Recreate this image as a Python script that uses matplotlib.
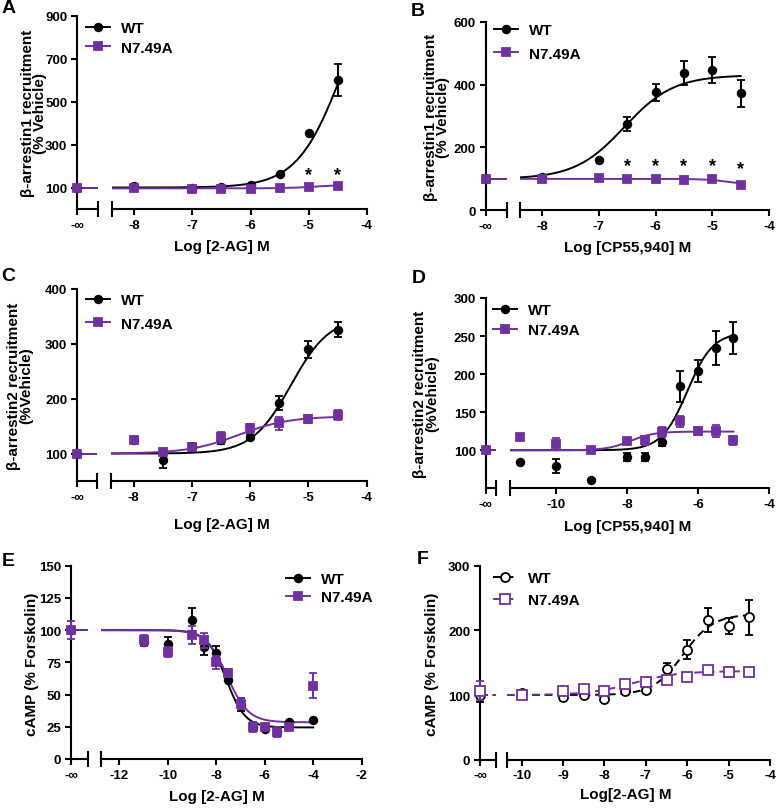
import numpy as np
import matplotlib
matplotlib.use("Agg")
import matplotlib.pyplot as plt
from matplotlib.lines import Line2D

plt.rcParams["font.family"] = ["Liberation Sans", "DejaVu Sans"]
plt.rcParams["font.weight"] = "bold"
plt.rcParams["axes.unicode_minus"] = False

PURPLE = "#7030a0"
W, H = 777, 812

# --- A: beta-arrestin1, 2-AG ---
a_x = [-8, -7, -6.5, -6, -5.5, -5, -4.5]
a_wt = [108, 100, 104, 112, 162, 354, 600]
a_wt_sem = [0, 0, 0, 0, 0, 0, 75]
a_mut = [96, 95, 95, 95, 96, 103, 107]
a_mut_sem = [0, 0, 0, 0, 0, 0, 0]
a_inf = [100, 100]          # WT, N7.49A at -inf
a_inf_sem = [0, 0]
a_wt_fit = [100, 1200, -4.4, 1.1]   # left, right, logEC50, hill
a_mut_fit = [96, 115, -4.8, 1.5]
a_star_x = [-5, -4.5]
a_star_y = [160, 160]

# --- B: beta-arrestin1, CP55,940 ---
b_x = [-8, -7, -6.5, -6, -5.5, -5, -4.5]
b_wt = [105, 160, 274, 375, 437, 447, 373]
b_wt_sem = [0, 0, 23, 28, 38, 42, 43]
b_mut = [100, 104, 100, 100, 97, 100, 82]
b_mut_sem = [0, 0, 0, 0, 0, 0, 0]
b_inf = [100, 100]
b_inf_sem = [0, 0]
b_wt_fit = [100, 430, -6.55, 1.0]
b_mut_fit = [100, 80, -4.7, 2.0]
b_star_x = [-6.5, -6, -5.5, -5, -4.5]
b_star_y = [142, 142, 142, 142, 134]

# --- C: beta-arrestin2, 2-AG ---
c_x = [-8, -7.5, -7, -6.5, -6, -5.5, -5, -4.5]
c_wt = [125, 88, 112, 124, 130, 192, 290, 326]
c_wt_sem = [0, 15, 7, 6, 6, 13, 15, 14]
c_mut = [125, 103, 112, 130, 146, 155, 163, 171]
c_mut_sem = [0, 4, 6, 10, 8, 12, 8, 9]
c_inf = [100, 100]
c_inf_sem = [0, 0]
c_wt_fit = [100, 350, -5.3, 1.3]
c_mut_fit = [100, 168, -6.2, 1.0]

# --- D: beta-arrestin2, CP55,940 ---
d_x = [-11, -10, -9, -8, -7.5, -7, -6.5, -6, -5.5, -5]
d_wt = [85, 79, 61, 91, 91, 111, 184, 204, 234, 248]
d_wt_sem = [0, 9, 0, 5, 5, 6, 20, 14, 22, 21]
d_mut = [118, 108, 100, 112, 113, 124, 138, 125, 125, 113]
d_mut_sem = [0, 8, 0, 2, 6, 7, 7, 5, 8, 6]
d_inf = [100, 100]
d_inf_sem = [0, 0]
d_wt_fit = [100, 255, -6.3, 1.2]
d_mut_fit = [100, 124.5, -7.9, 1.3]

# --- E: cAMP, 2-AG ---
e_x = [-11, -10, -9, -8.5, -8, -7.5, -7, -6.5, -6, -5.5, -5, -4]
e_wt = [91, 89, 108, 87, 82, 61, 42, 25, 23, 22, 29, 30]
e_wt_sem = [3, 6, 9, 6, 6, 0, 5, 3, 0, 3, 0, 0]
e_mut = [92, 83, 96, 92, 75, 67, 43, 25, 25, 21, 25, 57]
e_mut_sem = [4, 4, 7, 6, 5, 3, 4, 4, 2, 4, 2, 10]
e_inf = [100, 100]
e_inf_sem = [0, 7]
e_wt_fit = [100, 24.5, -7.6, 1.1]
e_mut_fit = [100, 28.5, -7.55, 1.0]

# --- F: cAMP (alternate), 2-AG ---
f_x = [-10, -9, -8.5, -8, -7.5, -7, -6.5, -6, -5.5, -5, -4.5]
f_wt = [103, 97, 100, 94, 106, 108, 140, 170, 216, 207, 220]
f_wt_sem = [3, 3, 3, 3, 4, 5, 10, 15, 18, 12, 27]
f_mut = [100, 107, 109, 106, 117, 120, 123, 128, 138, 136, 136]
f_mut_sem = [3, 3, 3, 4, 4, 7, 4, 4, 3, 8, 3]
f_inf = [100, 107]
f_inf_sem = [10, 14]
f_wt_fit = [100, 225, -6.1, 1.2]
f_mut_fit = [100, 137, -7.3, 0.8]


def logistic(x, p):
    left, right, logec50, hill = p
    return left + (right - left) / (1 + 10 ** ((logec50 - x) * hill))


fig = plt.figure(figsize=(W / 100, H / 100), dpi=100)


def add_px_axes(x0, x1, y0, y1, **kw):
    return fig.add_axes([x0 / W, 1 - y1 / H, (x1 - x0) / W, (y1 - y0) / H], **kw)


def panel(letter, letter_xy, box, xlim, xticks, ylim, yticks,
          xlabel, xlabel_xy, ylabel, ylabel_xy,
          x, wt, wt_sem, mut, mut_sem, inf, inf_sem, wt_fit, mut_fit,
          leg, star_x=None, star_y=None, dashed=False, fit_end=None):
    xl0, xl1, xm0, xm1, yt, yb = box
    ax_l = add_px_axes(xl0, xl1, yt, yb)
    ax_m = add_px_axes(xm0, xm1, yt, yb, sharey=ax_l)

    for ax in (ax_l, ax_m):
        ax.patch.set_visible(False)
        for s in ("top", "right"):
            ax.spines[s].set_visible(False)
        for s in ("left", "bottom"):
            ax.spines[s].set_linewidth(1.5)
        ax.tick_params(which="major", length=4.5, width=1.5, labelsize=9.5, pad=2.5)
        ax.tick_params(axis="x", which="minor", direction="inout", length=11, width=1.5)
    ax_m.spines["left"].set_visible(False)
    ax_m.tick_params(axis="y", left=False, labelleft=False)

    ax_l.set_ylim(ylim)
    ax_l.set_yticks(yticks)
    ax_l.set_xlim(0, 1)
    ax_l.set_xticks([0])
    ax_l.set_xticklabels(["-\u221e"])
    ax_l.set_xticks([1], minor=True)
    ax_m.set_xlim(xlim)
    ax_m.set_xticks(xticks)
    ax_m.set_xticklabels([f"{t:g}" for t in xticks])
    ax_m.set_xticks([xlim[0]], minor=True)

    ls = (0, (4, 2.5)) if dashed else "-"
    ms = 6.5 if dashed else 5.5
    series = [("black", "o", wt, wt_sem, wt_fit, inf[0], inf_sem[0]),
              (PURPLE, "s", mut, mut_sem, mut_fit, inf[1], inf_sem[1])]
    handles = []
    for z, (col, mk, y, sem, fit, yinf, sinf) in enumerate(series):
        mfc = "white" if dashed else col
        kw = dict(fmt=mk, color=col, mfc=mfc, mec=col, mew=1.3, ms=ms,
                  capsize=3, elinewidth=1.5, capthick=1.5, clip_on=False, zorder=4 + z)
        ax_m.errorbar(x, y, yerr=sem, **kw)
        ax_l.errorbar([0], [yinf], yerr=[sinf], **kw)
        end = x[-1] if fit_end is None else fit_end
        xx = np.linspace(xlim[0], end, 300)
        ax_m.plot(xx, logistic(xx, fit), color=col, lw=1.4, ls=ls, zorder=3 + z)
        ax_l.axhline(fit[0], color=col, lw=1.4, ls=ls, zorder=3 + z)
        handles.append(Line2D([], [], color=col, marker=mk, mfc=mfc, mec=col, mew=1.3,
                              ms=ms, lw=1.4, ls=ls))

    if star_x is not None:
        for sx, sy in zip(star_x, star_y):
            ax_m.text(sx, sy, "*", ha="center", va="center", fontsize=13)

    lx, ly, lsp = leg
    ax_m.legend(handles, ["WT", "N7.49A"], loc="upper left",
                bbox_to_anchor=(lx / W, 1 - (ly - 8.8) / H), bbox_transform=fig.transFigure,
                frameon=False, borderpad=0, borderaxespad=0, handlelength=1.6,
                handletextpad=0.7, labelspacing=(lsp - 17.6) / 15.3,
                prop={"size": 11, "weight": "bold"})

    fig.text(letter_xy[0] / W, 1 - letter_xy[1] / H, letter, fontsize=14,
             fontweight="bold", ha="left", va="top")
    fig.text(xlabel_xy[0] / W, 1 - xlabel_xy[1] / H, xlabel, fontsize=11,
             ha="center", va="center")
    fig.text(ylabel_xy[0] / W, 1 - ylabel_xy[1] / H, ylabel, fontsize=11,
             ha="center", va="center", rotation=90, multialignment="center",
             linespacing=0.8)


panel("A", (2, 0), (77, 98, 112.3, 366.7, 16.7, 210), (-8.38, -4), [-8, -7, -6, -5, -4],
      (0, 900), [100, 300, 500, 700, 900],
      "Log [2-AG] M", (222, 247), "\u03b2-arrestin1 recruitment\n(% Vehicle)", (34, 113),
      a_x, a_wt, a_wt_sem, a_mut, a_mut_sem, a_inf, a_inf_sem, a_wt_fit, a_mut_fit,
      (86, 30.7, 23.3), a_star_x, a_star_y)

panel("B", (411, 3), (485.7, 506.7, 520, 769, 22.7, 211.3), (-8.39, -4), [-8, -7, -6, -5, -4],
      (0, 600), [0, 200, 400, 600],
      "Log [CP55,940] M", (628, 248), "\u03b2-arrestin1 recruitment\n(% Vehicle)", (437, 117),
      b_x, b_wt, b_wt_sem, b_mut, b_mut_sem, b_inf, b_inf_sem, b_wt_fit, b_mut_fit,
      (494, 33, 27), b_star_x, b_star_y)

panel("C", (1, 268), (77, 96.7, 111, 366.7, 290, 482), (-8.39, -4), [-8, -7, -6, -5, -4],
      (50, 400), [100, 200, 300, 400],
      "Log [2-AG] M", (222, 525), "\u03b2-arrestin2 recruitment\n(%Vehicle)", (20, 386),
      c_x, c_wt, c_wt_sem, c_mut, c_mut_sem, c_inf, c_inf_sem, c_wt_fit, c_mut_fit,
      (86, 303, 27))

panel("D", (412, 270), (485.7, 496, 510, 769, 299, 489.3), (-11.29, -4), [-10, -8, -6, -4],
      (50, 300), [100, 150, 200, 250, 300],
      "Log [CP55,940] M", (628, 527), "\u03b2-arrestin2 recruitment\n(%Vehicle)", (426, 394),
      d_x, d_wt, d_wt_sem, d_mut, d_mut_sem, d_inf, d_inf_sem, d_wt_fit, d_mut_fit,
      (493, 312.7, 24))

panel("E", (2, 553), (71, 88, 101, 361.7, 566.7, 760), (-12.76, -2), [-12, -10, -8, -6, -4, -2],
      (0, 150), [0, 25, 50, 75, 100, 125, 150],
      "Log [2-AG] M", (217, 797), "cAMP (% Forskolin)", (32, 664),
      e_x, e_wt, e_wt_sem, e_mut, e_mut_sem, e_inf, e_inf_sem, e_wt_fit, e_mut_fit,
      (286, 581.7, 21.6))

panel("F", (417, 551), (480, 495.7, 506.7, 770, 566.7, 760.7), (-10.36, -4),
      [-10, -9, -8, -7, -6, -5, -4],
      (0, 300), [0, 100, 200, 300],
      "Log[2-AG] M", (626, 795), "cAMP (% Forskolin)", (432, 664),
      f_x, f_wt, f_wt_sem, f_mut, f_mut_sem, f_inf, f_inf_sem, f_wt_fit, f_mut_fit,
      (493, 581, 25.7), dashed=True)

fig.savefig("out.png", dpi=100)
